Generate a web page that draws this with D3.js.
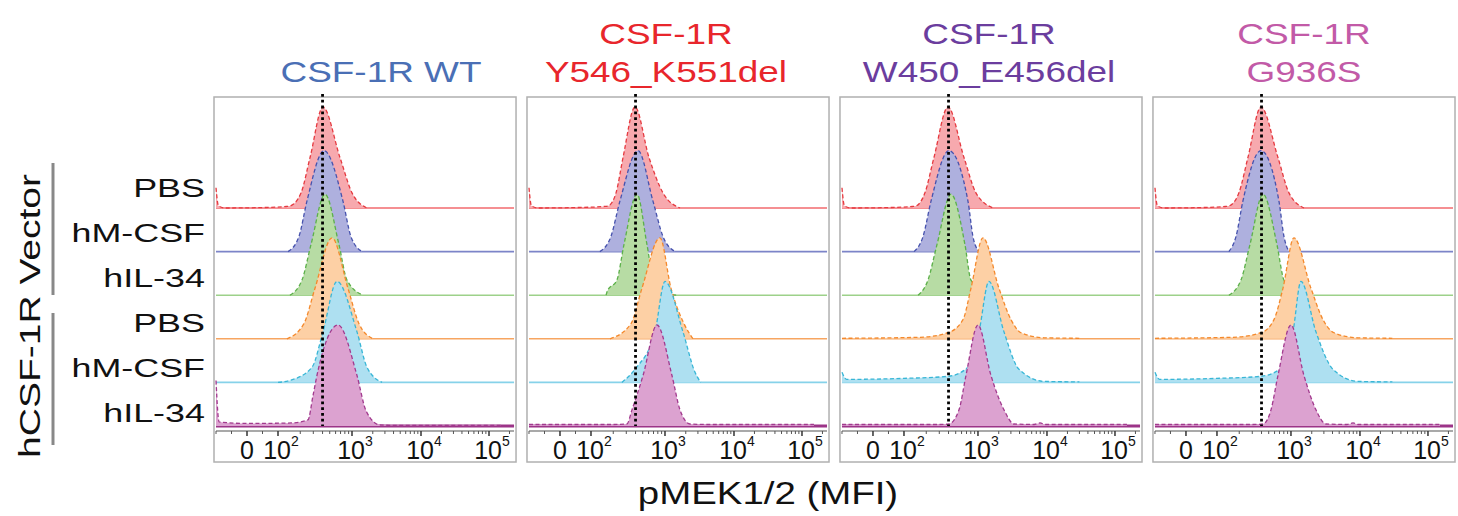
<!DOCTYPE html>
<html>
<head>
<meta charset="utf-8">
<script src="https://cdn.jsdelivr.net/npm/d3@7"></script>
<style>
  body { margin: 0; background: #fff; }
  text { font-family: "Liberation Sans", Arial, Helvetica, sans-serif; }
</style>
</head>
<body>
<div id="chart"></div>
<script>
// panel titles (one or two lines each) and their colours
var panelTitles = [["CSF-1R WT"], ["CSF-1R", "Y546_K551del"], ["CSF-1R", "W450_E456del"], ["CSF-1R", "G936S"]];
var titleColors = ["#4a6fb5", "#e8262c", "#6b3d9e", "#c25aa7"];

// rows (top to bottom)
var rowLabels = ["PBS", "hM-CSF", "hIL-34", "PBS", "hM-CSF", "hIL-34"];
var groupLabel = "hCSF-1R Vector";
var xLabel = "pMEK1/2 (MFI)";

// x axis ticks
var tickValues = [0, 100, 1000, 10000, 100000];
var tickBase = ["0", "10", "10", "10", "10"];
var tickExp = ["", "2", "3", "4", "5"];

// dotted gate (MFI)
var gateMFI = 400;

// histograms: [MFI, % of mode], one list per row
var wtCurves = [
  [[-100,20],[-92,2],[-70,0],[60,0.5],[130,1.5],[145,2],[205,15],[271,50],[405,100],[688,50],[1000,15],[1649,0]],
  [[137,0],[192,15],[246,50],[419,100],[755,50],[966,15],[1396,0]],
  [[145,0],[211,15],[279,50],[432,100],[667,50],[855,15],[1443,0]],
  [[132,0],[224,15],[316,50],[537,100],[882,50],[1262,15],[2015,0]],
  [[100,0],[145,2],[288,15],[405,50],[627,100],[1181,50],[1649,15],[2722,0]],
  [[-100,45],[-90,4],[0,2.5],[150,3],[254,6],[297,30],[336,50],[647,100],[1181,50],[1600,15],[2546,1],[5000,0.5],[150000,0.5]]
];
var y546Curves = [
  [[-100,20],[-92,2],[-70,0],[60,0.5],[150,1.5],[170,2],[218,15],[271,50],[393,100],[608,50],[939,15],[1649,0]],
  [[132,0],[186,15],[246,50],[432,100],[688,50],[939,15],[1396,0]],
  [[160,0],[166,4],[224,15],[279,50],[419,100],[571,50],[700,15],[1000,2],[1493,0]],
  [[181,0],[347,15],[488,50],[855,100],[1222,50],[1885,15],[2546,0]],
  [[262,0],[393,13],[732,50],[1000,100],[1823,50],[2722,10],[3300,0]],
  [[-100,1.5],[200,1.5],[306,2],[358,16],[505,50],[779,100],[1262,50],[1649,16],[2303,2],[4000,1.5],[150000,1.5]]
];
var w450Curves = [
  [[-100,20],[-92,2],[-70,0],[60,0.5],[130,1.5],[145,2],[192,15],[254,50],[393,100],[647,50],[939,15],[1649,0]],
  [[137,0],[181,15],[232,50],[405,100],[732,50],[855,15],[1033,0]],
  [[155,0],[211,15],[279,50],[432,100],[667,50],[804,15],[1493,0]],
  [[-100,0.5],[164,1.5],[393,6],[627,19],[804,50],[1181,100],[2015,50],[3009,19],[4200,6],[9057,1],[30000,0.5]],
  [[-100,10],[-85,3],[100,4],[393,6],[732,15],[1033,50],[1443,100],[2382,50],[3926,13],[9057,1],[30000,0.5]],
  [[-100,1.5],[300,1.5],[405,2],[554,16],[688,50],[1000,100],[1543,50],[2382,16],[3325,2],[6500,1.5],[7930,3],[9500,1.5],[150000,1.5]]
];
var g936sCurves = [
  [[-100,20],[-92,2],[-70,0],[60,0.5],[130,1.5],[145,2],[198,15],[262,50],[393,100],[667,50],[939,15],[1543,0]],
  [[145,0],[181,15],[224,50],[393,100],[688,50],[804,15],[939,0]],
  [[145,0],[211,15],[279,50],[419,100],[647,50],[804,15],[1262,0]],
  [[-100,0.5],[164,1.5],[393,6],[589,19],[779,50],[1105,100],[1949,50],[2910,19],[4200,6],[9300,1],[30000,0.5]],
  [[-100,10],[-85,3],[100,4],[393,6],[732,14],[1069,50],[1396,100],[2303,50],[4063,13],[9300,1],[30000,0.5]],
  [[-100,1.5],[300,1.5],[419,2],[537,16],[667,50],[1000,100],[1543,50],[2303,16],[3216,2],[6500,1.5],[7930,3],[9500,1.5],[150000,1.5]]
];
var panelCurves = [wtCurves, y546Curves, w450Curves, g936sCurves];

// row colours: fill, dashed outline, baseline
var fillColors = ["#f7a9ae", "#aeb0de", "#b7dca4", "#fdd0a5", "#aee0f1", "#dca2d0"];
var lineColors = ["#e53a40", "#4652ad", "#5cb04a", "#f4892c", "#38b6d6", "#a23a8e"];
var baseColors = ["#f26a6e", "#7c84c8", "#9dd18a", "#f7a561", "#86d2e9", "#9c3488"];

// set the dimensions
var width = 1458, height = 516;
var panelTop = 97, panelBottom = 462;

var svg = d3.select("#chart")
  .append("svg")
    .attr("width", width)
    .attr("height", height);

svg.append("rect").attr("width", width).attr("height", height).attr("fill", "#fff");

// panels across the page
var panelX = d3.scaleBand().domain(d3.range(4)).range([214, 1455]).paddingInner(0.035);
var panelW = panelX.bandwidth();

// rows down the page (baselines)
var rowY = d3.scalePoint().domain(d3.range(6)).range([208, 426]);
var labelY = d3.scalePoint().domain(d3.range(6)).range([197, 422]);
var hScale = d3.scaleLinear().domain([0, 100]).range([0, 101]);

// biexponential-like x: linear below 100, log above
function tr(v) { return v <= 100 ? v / 50 : Math.log10(v); }
var xu = d3.scaleLinear().domain([0, 2, 3, 4, 5]).range([33, 64, 138, 207, 275]);
function xp(v) { return xu(tr(v)); }

// stretch text horizontally like the original figure
function stretch(sel, k) {
  sel.each(function() {
    var w = this.getComputedTextLength();
    d3.select(this).attr("textLength", w * k).attr("lengthAdjust", "spacingAndGlyphs");
  });
}

var titleShift = [16, -12, -2, 0];

d3.range(4).forEach(function(p) {
  var g = svg.append("g").attr("transform", "translate(" + panelX(p) + ",0)");

  // frame
  g.append("rect")
    .attr("x", 0).attr("y", panelTop)
    .attr("width", panelW).attr("height", panelBottom - panelTop)
    .attr("fill", "#fff")
    .attr("stroke", "#b0b0b0")
    .attr("stroke-width", 1.5);

  // title
  var lines = panelTitles[p];
  lines.forEach(function(t, i) {
    var y = lines.length == 2 ? (i == 0 ? 44 : 82) : 82;
    g.append("text")
      .attr("x", panelW / 2 + titleShift[p])
      .attr("y", y)
      .attr("text-anchor", "middle")
      .attr("font-size", 30)
      .attr("fill", titleColors[p])
      .text(t)
      .call(stretch, 1.23);
  });

  // ridgelines
  panelCurves[p].forEach(function(pts, r) {
    var y0 = rowY(r);
    g.append("line")
      .attr("x1", 2).attr("x2", panelW - 2)
      .attr("y1", y0).attr("y2", y0)
      .attr("stroke", baseColors[r])
      .attr("stroke-width", r == 5 ? 3 : 1.6);

    var area = d3.area()
      .x(function(d) { return xp(d[0]); })
      .y0(y0)
      .y1(function(d) { return y0 - hScale(d[1]); })
      .curve(d3.curveMonotoneX);
    var line = d3.line()
      .x(function(d) { return xp(d[0]); })
      .y(function(d) { return y0 - hScale(d[1]); })
      .curve(d3.curveMonotoneX);

    g.append("path")
      .attr("d", area(pts))
      .attr("fill", fillColors[r]);
    g.append("path")
      .attr("d", line(pts))
      .attr("fill", "none")
      .attr("stroke", lineColors[r])
      .attr("stroke-width", 1.3)
      .attr("stroke-dasharray", "4,2.5");
  });

  // x axis
  var axisY = 431;
  g.append("line")
    .attr("x1", 2).attr("x2", panelW - 2)
    .attr("y1", axisY).attr("y2", axisY)
    .attr("stroke", "#555").attr("stroke-width", 1.2);

  var minor = [-100, -50, 50]
    .concat(d3.range(2, 10).map(function(k) { return k * 100; }))
    .concat(d3.range(2, 10).map(function(k) { return k * 1000; }))
    .concat(d3.range(2, 10).map(function(k) { return k * 10000; }))
    .concat([200000]);
  g.selectAll(".minor")
    .data(minor.filter(function(v) { return xp(v) < panelW - 2; }))
    .enter().append("line")
      .attr("x1", function(d) { return xp(d); })
      .attr("x2", function(d) { return xp(d); })
      .attr("y1", axisY).attr("y2", axisY + 3)
      .attr("stroke", "#555").attr("stroke-width", 1);

  g.selectAll(".major")
    .data(tickValues)
    .enter().append("line")
      .attr("x1", function(d) { return xp(d); })
      .attr("x2", function(d) { return xp(d); })
      .attr("y1", axisY).attr("y2", axisY + 5)
      .attr("stroke", "#333").attr("stroke-width", 1.5);

  tickValues.forEach(function(v, i) {
    var t = g.append("text")
      .attr("x", xp(v) + (i ? 3 : 0))
      .attr("y", 459)
      .attr("text-anchor", "middle")
      .attr("font-size", 25)
      .attr("fill", "#111");
    t.append("tspan").text(tickBase[i]);
    if (tickExp[i]) {
      t.append("tspan").attr("dy", -13).attr("font-size", 14).text(tickExp[i]);
    }
  });

  // gate
  g.append("line")
    .attr("x1", xp(gateMFI)).attr("x2", xp(gateMFI))
    .attr("y1", panelTop - 3).attr("y2", rowY(5))
    .attr("stroke", "#000")
    .attr("stroke-width", 2.8)
    .attr("stroke-dasharray", "2.8,3");
});

// row labels
svg.selectAll(".rowlab")
  .data(rowLabels)
  .enter().append("text")
    .attr("x", 205)
    .attr("y", function(d, i) { return labelY(i); })
    .attr("text-anchor", "end")
    .attr("font-size", 26)
    .attr("fill", "#111")
    .text(function(d) { return d; })
    .call(stretch, 1.38);

// group bars
[[163, 295], [313, 445]].forEach(function(b) {
  svg.append("line")
    .attr("x1", 53).attr("x2", 53)
    .attr("y1", b[0]).attr("y2", b[1])
    .attr("stroke", "#888").attr("stroke-width", 3);
});

// vertical group label
svg.append("text")
  .attr("transform", "translate(40,316) rotate(-90)")
  .attr("text-anchor", "middle")
  .attr("font-size", 30)
  .attr("fill", "#111")
  .text(groupLabel)
  .call(stretch, 1.3);

// x axis title
svg.append("text")
  .attr("x", 768)
  .attr("y", 504)
  .attr("text-anchor", "middle")
  .attr("font-size", 32)
  .attr("fill", "#111")
  .text(xLabel)
  .call(stretch, 1.2);
</script>
</body>
</html>
